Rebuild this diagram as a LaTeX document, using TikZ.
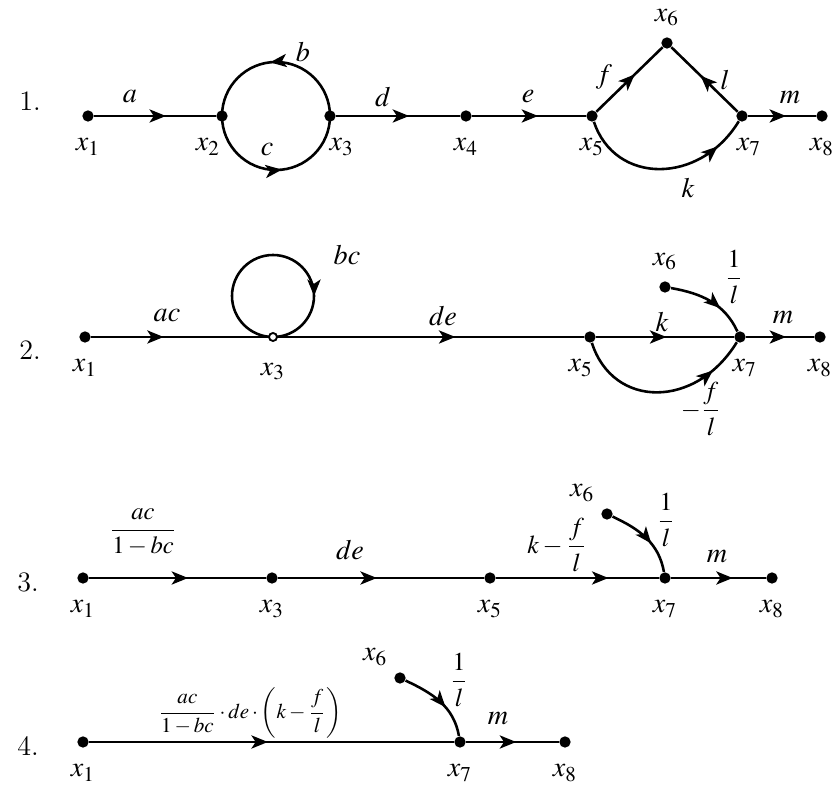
\documentclass[tikz,border=0pt]{standalone}
\usepackage{amsmath}
\usepackage{mathptmx}
\usetikzlibrary{arrows.meta,decorations.markings}

\tikzset{
  dot/.style={circle, fill, inner sep=0pt, minimum size=0.17cm},
  hollowdot/.style={circle, draw, fill=white, inner sep=0pt, minimum size=0.12cm, line width=0.8pt},
  xlab/.style={label distance=3.5pt},
  fraclbl/.style={font=\fontsize{11}{13}\selectfont},
  flow/.style={line width=1.1pt},
  midarrow/.style={postaction={decorate}, decoration={markings,
      mark=at position #1 with {\arrow{Stealth[length=7pt,width=5.6pt,inset=1.8pt]}}}},
  midarrow/.default=0.5
}

\begin{document}
\begin{tikzpicture}[x=0.015cm, y=0.015cm, font=\fontsize{12}{14}\selectfont]
    \useasboundingbox (0,0) rectangle (832,788);
    % row numbers
    \node (n1) at (30,687) {1.};
    \node (n2) at (30,438) {2.};
    \node (n3) at (28,206) {3.};
    \node (n4) at (28,42) {4.};

    % 1. original graph
    \node[dot, label={[xlab]below:$x_1$}] (a1) at (88,672) {};
    \node[dot, label={[xlab,xshift=-6pt]below:$x_2$}] (a2) at (222,672) {};
    \node[dot, label={[xlab,xshift=5pt]below:$x_3$}] (a3) at (330,672) {};
    \node[dot, label={[xlab]below:$x_4$}] (a4) at (466,672) {};
    \node[dot, label={[xlab]below:$x_5$}] (a5) at (592,672) {};
    \node[dot, label={[label distance=1pt]above:$x_6$}] (a6) at (667,745) {};
    \node[dot, label={[xlab,xshift=3pt]below:$x_7$}] (a7) at (742,672) {};
    \node[dot, label={[xlab]below:$x_8$}] (a8) at (822,672) {};
    \draw[flow, midarrow=0.59] (a1) -- (a2);
    \draw[flow, midarrow=0.535] (a3.center) arc[start angle=0, end angle=180, radius=54];
    \draw[flow, midarrow=0.535] (a2.center) arc[start angle=180, end angle=360, radius=54];
    \draw[flow, midarrow=0.59] (a3) -- (a4);
    \draw[flow, midarrow=0.58] (a4) -- (a5);
    \draw[flow, midarrow=0.58] (a5) -- (a6);
    \draw[flow, midarrow=0.56] (a7) -- (a6);
    \draw[flow, midarrow=0.82] (a5) .. controls (615,603) and (700,603) .. (a7);
    \draw[flow, midarrow=0.56] (a7) -- (a8);
    \node (la) at (130,691) {$a$};
    \node (lb) at (303,736) {$b$};
    \node (lc) at (267,638) {$c$};
    \node (ld) at (383,691) {$d$};
    \node (le) at (528,691) {$e$};
    \node (lf) at (604,711) {$f$};
    \node (ll) at (725,708) {$l$};
    \node (lk) at (688,600) {$k$};
    \node (lm) at (790,690) {$m$};

    % 2. x2 and x4 removed
    \coordinate (c3) at (273,451);
    \draw[flow, midarrow=0.75] (c3) arc[start angle=-90, end angle=-450, radius=41];
    \node[dot, label={[xlab]below:$x_1$}] (b1) at (85,451) {};
    \node[hollowdot, label={[label distance=5.5pt]below:$x_3$}] (b3) at (c3) {};
    \node[dot, label={[xlab,xshift=-4pt]below:$x_5$}] (b5) at (590,451) {};
    \node[dot, label={[label distance=1pt]above:$x_6$}] (b6) at (665,501) {};
    \node[dot, label={[xlab,xshift=2pt]below:$x_7$}] (b7) at (740,451) {};
    \node[dot, label={[xlab]below:$x_8$}] (b8) at (820,451) {};
    \draw[flow, midarrow=0.41] (b1) -- (b3);
    \draw[flow, midarrow=0.58] (b3) -- (b5);
    \draw[flow, midarrow=0.51] (b5) -- (b7);
    \draw[flow, midarrow=0.8] (b5) .. controls (613,379) and (696,379) .. (b7);
    \draw[flow, midarrow=0.65] (b6) to[out=-10, in=115] (b7);
    \draw[flow, midarrow=0.59] (b7) -- (b8);
    \node (lac) at (167,472) {$ac$};
    \node (lbc) at (347,533) {$bc$};
    \node (lde) at (443,472) {$de$};
    \node (lk2) at (662,466) {$k$};
    \node[fraclbl] (lil) at (734,511) {$\dfrac{1}{l}$};
    \node[fraclbl] (lfl) at (701,379) {$-\dfrac{f}{l}$};
    \node (lm2) at (783,470) {$m$};

    % 3. loop and parallel paths reduced
    \node[dot, label={[xlab]below:$x_1$}] (c1) at (83,210) {};
    \node[dot, label={[xlab]below:$x_3$}] (c3n) at (272,210) {};
    \node[dot, label={[xlab]below:$x_5$}] (c5) at (490,210) {};
    \node[dot, label={[label distance=0pt]above left:$x_6$}] (c6) at (607,274) {};
    \node[dot, label={[xlab]below:$x_7$}] (c7) at (665,210) {};
    \node[dot, label={[xlab]below:$x_8$}] (c8) at (772,210) {};
    \draw[flow, midarrow=0.56] (c1) -- (c3n);
    \draw[flow, midarrow=0.48] (c3n) -- (c5);
    \draw[flow, midarrow=0.69] (c5) -- (c7);
    \draw[flow, midarrow=0.6] (c6) to[out=-25, in=100] (c7);
    \draw[flow, midarrow=0.65] (c7) -- (c8);
    \node[font=\fontsize{10.5}{12.5}\selectfont] (lg3) at (143,256) {$\dfrac{ac}{1-bc}$};
    \node (lde3) at (350,238) {$de$};
    \node[fraclbl] (lkf3) at (557,243) {$k-\dfrac{f}{l}$};
    \node[fraclbl] (lil3) at (666,268) {$\dfrac{1}{l}$};
    \node (lm3) at (717,231) {$m$};

    % 4. series path merged
    \node[dot, label={[xlab]below:$x_1$}] (d1) at (83,46) {};
    \node[dot, label={[label distance=0pt]above left:$x_6$}] (d6) at (400,110) {};
    \node[dot, label={[xlab]below:$x_7$}] (d7) at (460,46) {};
    \node[dot, label={[xlab]below:$x_8$}] (d8) at (565,46) {};
    \draw[flow, midarrow=0.49] (d1) -- (d7);
    \draw[flow, midarrow=0.6] (d6) to[out=-25, in=100] (d7);
    \draw[flow, midarrow=0.54] (d7) -- (d8);
    \node[font=\fontsize{9}{11}\selectfont] (lg4) at (250,75) {$\dfrac{ac}{1-bc}\cdot de\cdot\left(k-\dfrac{f}{l}\right)$};
    \node[fraclbl] (lil4) at (459,108) {$\dfrac{1}{l}$};
    \node (lm4) at (498,69) {$m$};
  \end{tikzpicture}
\end{document}
